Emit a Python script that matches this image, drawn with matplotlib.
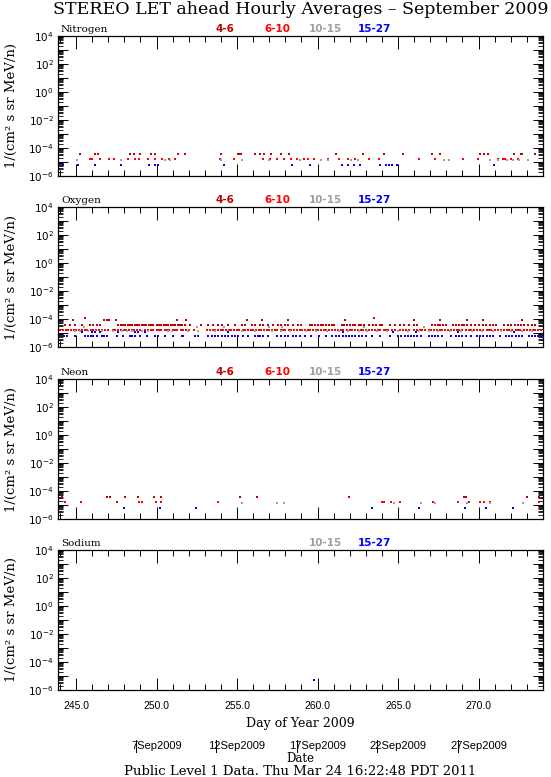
import numpy as np
import matplotlib
matplotlib.use("Agg")
import matplotlib.pyplot as plt
from matplotlib.ticker import LogLocator, FixedLocator, FuncFormatter, NullFormatter

# ---- data (day of year 2009, flux 1/(cm2 s sr MeV/n)) ----
channels = ["4-6", "6-10", "10-15", "15-27"]
chan_colors = ["#c00000", "#ff0000", "#a0a0a0", "#0000ff"]

# one-count flux levels per channel
lvl_46 = 3.6e-5
lvl_610 = 1.65e-5
lvl_1015 = 1.35e-5
lvl_1527 = 6.0e-6
lvl_46_x2 = 8.0e-5
lvl_1527_x2 = 1.2e-5

# Nitrogen
n_46 = [245.25, 246.17, 246.39, 248.35, 248.57, 249.0, 249.66, 249.92, 251.36,
        251.77, 254.02, 255.06, 255.14, 255.22, 256.09, 256.41, 256.68, 257.08,
        257.76, 258.23, 261.13, 262.83, 264.11, 265.29, 267.08, 267.63, 270.09,
        270.35, 270.61, 272.23, 272.65, 272.72, 273.5]
n_610 = [245.84, 246.02, 246.5, 247.04, 247.37, 248.24, 248.68, 248.9, 249.44,
         249.88, 250.31, 250.75, 251.14, 253.91, 254.78, 256.63, 257.07, 257.5,
         257.9, 258.38, 258.7, 259.14, 259.42, 259.79, 260.66, 261.32, 261.86,
         262.3, 263.17, 263.82, 266.33, 267.31, 269.01, 269.99, 271.23, 271.5,
         271.67, 272.0, 272.43]
n_1015 = [245.04, 247.8, 250.53, 250.86, 254.02, 255.32, 256.96, 258.92, 260.23,
          260.66, 262.08, 262.52, 267.86, 268.18, 270.69, 271.23, 271.78, 272.11,
          272.54, 273.09]
n_1527 = [244.16, 245.12, 246.17, 247.8, 249.55, 249.88, 250.09, 254.17, 258.44,
          259.53, 261.49, 261.86, 262.26, 262.63, 263.89, 264.22, 264.44, 264.65,
          264.96, 270.95]

# Oxygen
o_46 = [244.32, 244.63, 244.94, 245.35, 245.87, 246.08, 246.28, 246.49, 247.63,
        247.77, 247.92, 248.06, 248.2, 248.35, 248.49, 248.64, 248.78, 248.93,
        249.07, 249.22, 249.36, 249.51, 249.65, 249.8, 250.0, 250.15, 250.29,
        250.44, 250.58, 250.73, 250.87, 251.02, 251.16, 251.31, 251.45, 251.6,
        251.76, 252.07, 252.79, 253.21, 253.52, 253.83, 254.04, 254.45, 254.86,
        255.28, 255.48, 255.9, 256.1, 256.41, 256.62, 256.93, 257.24, 257.55,
        257.76, 257.96, 258.17, 258.48, 258.79, 259.0, 259.5, 259.65, 259.85,
        260.0, 260.2, 260.35, 260.5, 260.7, 260.9, 261.05, 261.5, 261.65, 261.85,
        262.0, 262.2, 262.35, 262.55, 262.7, 262.9, 263.2, 263.45, 263.65, 263.85,
        264.0, 264.5, 264.8, 265.15, 265.35, 265.7, 266.0, 266.2, 267.1, 267.3,
        267.45, 267.6, 267.8, 267.95, 268.4, 268.6, 268.8, 268.95, 269.1, 269.3,
        269.5, 269.8, 270.0, 270.25, 270.45, 270.7, 270.9, 271.1, 271.6, 271.8,
        272.0, 272.25, 272.45, 272.65, 272.85, 273.05, 273.3, 273.5]
o_46_hi = [244.83, 246.76, 246.9, 247.05, 247.48, 251.3, 251.86, 255.59, 256.52,
           258.17, 261.7, 266.0, 267.6, 269.3, 270.3, 272.7]
o_46_top = [245.56, 263.5]
o_610 = [244.0, 244.2, 244.35, 244.5, 244.7, 244.85, 245.0, 245.2, 245.4, 245.55,
         245.7, 245.9, 246.05, 246.25, 246.4, 246.6, 246.8, 247.0, 247.3, 247.45,
         247.6, 247.8, 247.95, 248.1, 248.3, 248.45, 248.6, 248.8, 249.0, 249.3,
         249.5, 249.65, 249.8, 250.0, 250.15, 250.3, 250.5, 250.65, 250.8, 251.0,
         251.15, 251.3, 251.5, 251.65, 251.85, 252.0, 252.3, 253.15, 253.3, 253.5,
         253.65, 253.8, 254.0, 254.15, 254.3, 254.5, 254.65, 254.8, 255.0, 255.15,
         255.35, 255.5, 255.65, 255.85, 256.0, 256.2, 256.35, 256.5, 256.7, 256.85,
         257.0, 257.2, 257.35, 257.5, 257.7, 257.85, 258.0, 258.2, 258.35, 258.55,
         258.7, 258.9, 259.05, 259.2, 259.4, 259.55, 259.7, 259.9, 260.05, 260.2,
         260.4, 260.55, 260.7, 260.9, 261.1, 261.25, 261.45, 261.6, 261.8, 262.0,
         262.15, 262.3, 262.5, 262.7, 262.85, 263.0, 263.2, 263.4, 263.55, 263.75,
         263.9, 264.1, 264.25, 264.4, 264.6, 264.8, 265.1, 265.3, 265.5, 265.7,
         266.0, 266.2, 266.35, 266.5, 266.7, 266.9, 267.05, 267.2, 267.4, 267.6,
         267.75, 267.9, 268.1, 268.3, 268.5, 268.65, 268.8, 269.0, 269.2, 269.4,
         269.55, 269.7, 269.9, 270.1, 270.3, 270.5, 270.65, 270.8, 271.0, 271.2,
         271.4, 271.55, 271.75, 271.9, 272.1, 272.3, 272.45, 272.6, 272.8, 273.0,
         273.2, 273.35, 273.5, 273.7, 273.85]
o_1015 = [244.94, 245.25, 245.76, 246.18, 246.59, 247.32, 247.83, 248.14, 248.45,
          249.07, 249.49, 250.73, 250.93, 251.97, 252.59, 253.62, 254.45, 255.28,
          256.1, 257.14, 257.76, 258.27, 259.3, 259.9, 260.6, 261.3, 261.9, 262.6,
          263.1, 263.7, 264.3, 265.0, 265.6, 266.3, 266.9, 267.5, 268.2, 268.9,
          269.6, 270.2, 270.9, 271.4, 272.0, 272.7, 273.3]
o_1015_hi = [245.5, 252.5, 254.2, 257.0, 257.8, 262.9, 266.6]
o_1527 = [244.28, 244.42, 244.94, 245.56, 245.76, 245.91, 246.08, 246.28, 246.59,
          246.76, 246.9, 247.52, 247.94, 248.35, 248.49, 248.66, 248.97, 249.38,
          249.9, 250.11, 250.52, 251.04, 251.55, 251.66, 252.38, 252.59, 253.21,
          253.42, 253.62, 253.83, 254.04, 254.24, 254.45, 254.66, 254.86, 255.07,
          255.38, 255.69, 256.1, 256.31, 256.41, 256.62, 256.93, 257.45, 257.76,
          257.96, 258.17, 258.48, 258.69, 258.9, 259.2, 259.6, 260.1, 260.5, 260.9,
          261.15, 261.35, 261.55, 261.75, 261.95, 262.15, 262.35, 262.55, 262.75,
          263.0, 263.4, 263.9, 264.5, 265.0, 265.2, 265.4, 265.6, 265.8, 266.0,
          266.2, 266.45, 266.9, 267.1, 267.3, 267.5, 267.7, 268.3, 268.6, 268.8,
          269.0, 269.2, 269.5, 269.9, 270.1, 270.3, 270.5, 270.7, 270.9, 271.3,
          271.7, 271.9, 272.1, 272.3, 272.5, 272.7, 273.1, 273.3, 273.5, 273.7,
          273.9]
o_1527_hi = [245.35, 245.97, 246.18, 246.49, 247.63, 248.66, 248.87, 249.28,
             254.45, 261.6, 264.7, 266.1, 268.7, 272.2]

# Neon
ne_46 = [244.10, 246.93, 247.09, 248.02, 248.85, 249.87, 250.25, 255.17, 256.26,
         261.97, 269.12, 269.21, 272.98, 273.74]
ne_610 = [244.32, 245.3, 247.54, 248.89, 249.11, 249.94, 250.25, 253.8, 264.0,
          264.15, 264.55, 265.13, 267.16, 268.73, 269.42, 270.1, 270.32, 270.69,
          273.74]
ne_1015 = [255.32, 257.5, 257.94, 264.74, 266.4, 267.31, 269.27, 270.69, 272.76]
ne_1527 = [247.98, 250.2, 252.45, 263.39, 266.29, 269.16, 270.43, 272.11]

# Sodium
na_1527 = [259.79]
na_1527_flux = [5.0e-6]

panel_names = ["Nitrogen", "Oxygen", "Neon", "Sodium"]
doy_ticks = [245, 250, 255, 260, 265, 270]
date_labels = ["7Sep2009", "12Sep2009", "17Sep2009", "22Sep2009", "27Sep2009"]
date_doy = [250, 255, 260, 265, 270]

# series per panel: (doy list, flux level, channel index)
panel_series = [
    [(n_46, lvl_46, 0), (n_610, lvl_610, 1), (n_1015, lvl_1015, 2), (n_1527, lvl_1527, 3)],
    [(o_610, lvl_610, 1), (o_1015, lvl_1015, 2), (o_1015_hi, 2.7e-5, 2),
     (o_46, lvl_46, 0), (o_46_hi, lvl_46_x2, 0), (o_46_top, 1.15e-4, 0),
     (o_1527, lvl_1527, 3), (o_1527_hi, lvl_1527_x2, 3)],
    [(ne_46, lvl_46, 0), (ne_610, lvl_610, 1), (ne_1015, lvl_1015, 2), (ne_1527, lvl_1527, 3)],
    [(na_1527, na_1527_flux, 3)],
]
panel_channels = [[0, 1, 2, 3], [0, 1, 2, 3], [0, 1, 2, 3], [2, 3]]

W, H = 551, 777
fig = plt.figure(figsize=(W / 100, H / 100), dpi=100)

ax_left, ax_right = 58, 543
panel_tops = [36, 207, 379, 550]
panel_h = 140
chan_label_x = [215, 264, 309, 358]

axes = []
for ip, top in enumerate(panel_tops):
    ax = fig.add_axes([ax_left / W, 1 - (top + panel_h) / H,
                       (ax_right - ax_left) / W, panel_h / H])
    axes.append(ax)

    for xs, lvl, ic in panel_series[ip]:
        ys = np.broadcast_to(np.asarray(lvl, dtype=float), (len(xs),))
        ax.plot(xs, ys, "s", ms=2.0, mew=0, color=chan_colors[ic])

    ax.set_yscale("log")
    ax.set_ylim(1e-6, 1e4)
    ax.set_xlim(243.88, 274.0)

    ax.yaxis.set_major_locator(LogLocator(base=10, subs=(1.0,), numticks=20))
    ax.yaxis.set_minor_locator(LogLocator(base=10, subs=np.arange(2, 10), numticks=20))
    ax.yaxis.set_major_formatter(FuncFormatter(
        lambda v, p: r"$10^{%d}$" % round(np.log10(v)) if round(np.log10(v)) % 2 == 0 else ""))
    ax.yaxis.set_minor_formatter(NullFormatter())
    ax.xaxis.set_major_locator(FixedLocator(doy_ticks))
    ax.xaxis.set_minor_locator(FixedLocator(np.arange(244, 275)))

    ax.tick_params(which="both", direction="in", top=True, right=True, width=0.7,
                   color="black")
    ax.tick_params(axis="x", which="major", length=9, pad=8)
    ax.tick_params(axis="x", which="minor", length=4.5)
    ax.tick_params(axis="y", which="major", length=7, pad=3)
    ax.tick_params(axis="y", which="minor", length=3.5, width=0.6)
    for lab in ax.get_yticklabels():
        lab.set_fontsize(7.5)
    for sp in ax.spines.values():
        sp.set_linewidth(0.9)

    if ip < 3:
        ax.tick_params(axis="x", labelbottom=False)
    else:
        ax.set_xticklabels([f"{t:.1f}" for t in doy_ticks],
                           fontsize=7.5, family="Liberation Sans")

    ax.set_ylabel("1/(cm² s sr MeV/n)", family="DejaVu Serif", fontsize=9.5)
    ax.yaxis.set_label_coords(-0.082, 0.5)

    # species name and channel legend above the frame
    ax.text(0.006, 1.012, panel_names[ip], transform=ax.transAxes,
            family="DejaVu Serif", fontsize=7.5, va="bottom", ha="left")
    for ic in panel_channels[ip]:
        fig.text(chan_label_x[ic] / W, 1 - (top - 2) / H, channels[ic],
                 color=chan_colors[ic], fontsize=7.5, fontweight="bold",
                 va="bottom", ha="left")

# date row under the bottom panel
ax = axes[-1]
for d, lab in zip(date_doy, date_labels):
    ax.text(d, -0.40, lab, transform=ax.get_xaxis_transform(), ha="center",
            va="center", fontsize=8, family="Liberation Sans")
    ax.plot([d - 1.3, d - 1.3], [-0.36, -0.44], transform=ax.get_xaxis_transform(),
            color="black", lw=0.7, clip_on=False)

xc = (ax_left + ax_right) / 2 / W
fig.text(xc, 1 - 10 / H, "STEREO LET ahead Hourly Averages \u2013 September 2009",
         ha="center", va="center", family="DejaVu Serif", fontsize=12.5)
fig.text(xc, 1 - 723 / H, "Day of Year 2009", ha="center", va="center",
         family="DejaVu Serif", fontsize=9)
fig.text(xc, 1 - 759 / H, "Date", ha="center", va="center",
         family="DejaVu Serif", fontsize=8.5)
fig.text(xc, 1 - 771.5 / H, "Public Level 1 Data. Thu Mar 24 16:22:48 PDT 2011",
         ha="center", va="center", family="DejaVu Serif", fontsize=9.5)

fig.savefig("out.png", dpi=100)
